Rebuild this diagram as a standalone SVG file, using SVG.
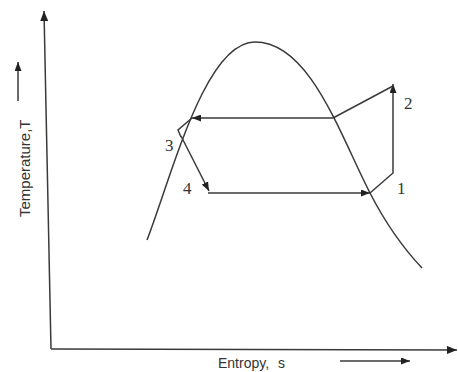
<svg xmlns="http://www.w3.org/2000/svg" width="458" height="372" viewBox="0 0 458 372">
<style>
.ln{fill:none;stroke:#3a3a3a;stroke-width:1.5}
.num{font-family:"Liberation Serif",serif;font-size:17px;fill:#333}
.lab{font-family:"Liberation Sans",sans-serif;fill:#333}
</style>
<defs>
<marker id="ah" markerUnits="userSpaceOnUse" markerWidth="10" markerHeight="8" refX="10" refY="4" orient="auto">
<path d="M0,0 L10,4 L0,8 z" fill="#222"/>
</marker>
<marker id="as" markerUnits="userSpaceOnUse" markerWidth="9" markerHeight="7" refX="9" refY="3.5" orient="auto">
<path d="M0,0 L9,3.5 L0,7 z" fill="#222"/>
</marker>
</defs>
<rect width="458" height="372" fill="#fff"/>
<g id="axes">
<line class="ln" x1="51" y1="349" x2="44" y2="11" marker-end="url(#ah)"/>
<line class="ln" x1="51" y1="349" x2="457" y2="350" marker-end="url(#ah)"/>
<line class="ln" x1="18" y1="101" x2="18" y2="62" stroke-width="1.2" marker-end="url(#as)"/>
<line class="ln" x1="340" y1="361" x2="410" y2="361" stroke-width="1.2" marker-end="url(#as)"/>
<text class="lab" font-size="15" transform="translate(30,217) rotate(-90)">Temperature,T</text>
<text class="lab" font-size="14" x="218" y="368" word-spacing="5">Entropy, s</text>
</g>
<g id="dome">
<path class="ln" d="M147,240 C172,175 205,42 255,42 C310,42 340,135 370,193 C388,228 405,250 422,268"/>
</g>
<g id="connectors">
<line class="ln" x1="333" y1="118" x2="192" y2="118" marker-end="url(#as)"/>
<line class="ln" x1="208" y1="193" x2="370" y2="193" marker-end="url(#as)"/>
<polyline class="ln" points="370,193 393,173 393,84" marker-end="url(#as)"/>
<line class="ln" x1="333" y1="118" x2="393" y2="86"/>
<polyline class="ln" points="192,118 178,130 181,137"/>
<line class="ln" x1="181" y1="136" x2="209" y2="191" marker-end="url(#as)"/>
</g>
<g id="labels">
<text class="num" x="165" y="151">3</text>
<text class="num" x="183" y="194">4</text>
<text class="num" x="404" y="109">2</text>
<text class="num" x="397" y="194">1</text>
</g>
</svg>
